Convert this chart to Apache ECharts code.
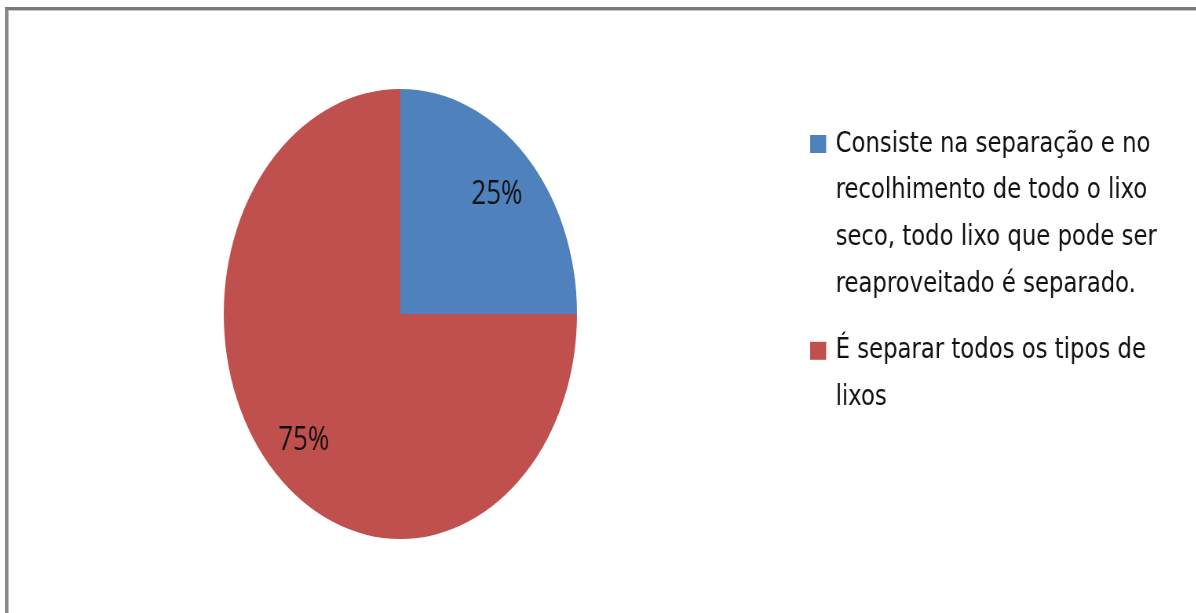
<!DOCTYPE html>
<html><head><meta charset="utf-8">
<script src="https://cdn.jsdelivr.net/npm/echarts@6/dist/echarts.min.js"></script>
<style>
html,body{margin:0;padding:0;overflow:hidden;background:#fff;width:1196px;height:613px;}
#wrap{position:absolute;left:0;top:0;width:1196px;height:613px;overflow:hidden;background:#fff;}
#chart{position:absolute;left:0;top:0;width:1524px;height:613px;transform:scaleX(0.785);transform-origin:0 0;}
#frame{position:absolute;left:5px;top:7px;right:-20px;bottom:-20px;border-top:3px solid #7a7a7a;border-left:3px solid #8a8a8a;box-shadow:inset 1px 1px 0 #c4c4c4;pointer-events:none;}
</style></head>
<body><div id="wrap"><div id="chart"></div><div id="frame"></div></div>
<script>
const categories = [
  'Consiste na separação e no\nrecolhimento de todo o lixo\nseco, todo lixo que pode ser\nreaproveitado é separado.',
  'É separar todos os tipos de\nlixos'
];
const values = [25, 75];
const colors = ['#4F81BD', '#C0504D'];

const LH = 46.7;
const rich = {
  sp: { width: 20.4, height: 18, lineHeight: LH },
  t: { fontFamily: 'DejaVu Sans', fontSize: 29, lineHeight: LH, color: '#111', padding: [0, 0, 0, 12] }
};
colors.forEach((c, i) => { rich['sq' + i] = { width: 20.4, height: 18, lineHeight: LH, backgroundColor: c }; });

const pieData = categories.map((n, i) => ({ name: n, value: values[i], itemStyle: { color: colors[i] } }));
const labelData = categories.map((n, i) => ({ name: n, value: values[i] }));

const chart = echarts.init(document.getElementById('chart'));
chart.setOption({
  animation: false,
  backgroundColor: '#fff',
  legend: {
    data: categories, orient: 'vertical', left: 1027, top: 144 - LH / 2, padding: 0, itemGap: 20,
    itemWidth: 0, itemHeight: 0, itemStyle: { opacity: 0 }, selectedMode: false,
    formatter: function (name) {
      const i = categories.indexOf(name);
      return name.split('\n').map((l, k) => (k === 0 ? '{sq' + i + '|}' : '{sp|}') + '{t|' + l + '}').join('\n');
    },
    textStyle: { rich: rich, fontFamily: 'DejaVu Sans', fontSize: 29, lineHeight: LH, color: '#111' }
  },
  series: [
    {
      type: 'pie', center: [510, 314], radius: 225, startAngle: 90, clockwise: true,
      data: pieData, label: { show: false }, labelLine: { show: false },
      itemStyle: { borderWidth: 0 }, silent: true, emphasis: { disabled: true }
    },
    {
      type: 'pie', center: [510, 314], radius: 342, startAngle: 90, clockwise: true, z: 5,
      data: labelData, itemStyle: { color: 'rgba(0,0,0,0)', borderWidth: 0 }, silent: true,
      emphasis: { disabled: true }, labelLine: { show: false },
      labelLayout: { dy: 4 },
      label: { show: true, position: 'inside', formatter: '{d}%', fontFamily: 'Open Sans', fontSize: 33, color: '#111' }
    }
  ]
});
</script>
</body></html>
